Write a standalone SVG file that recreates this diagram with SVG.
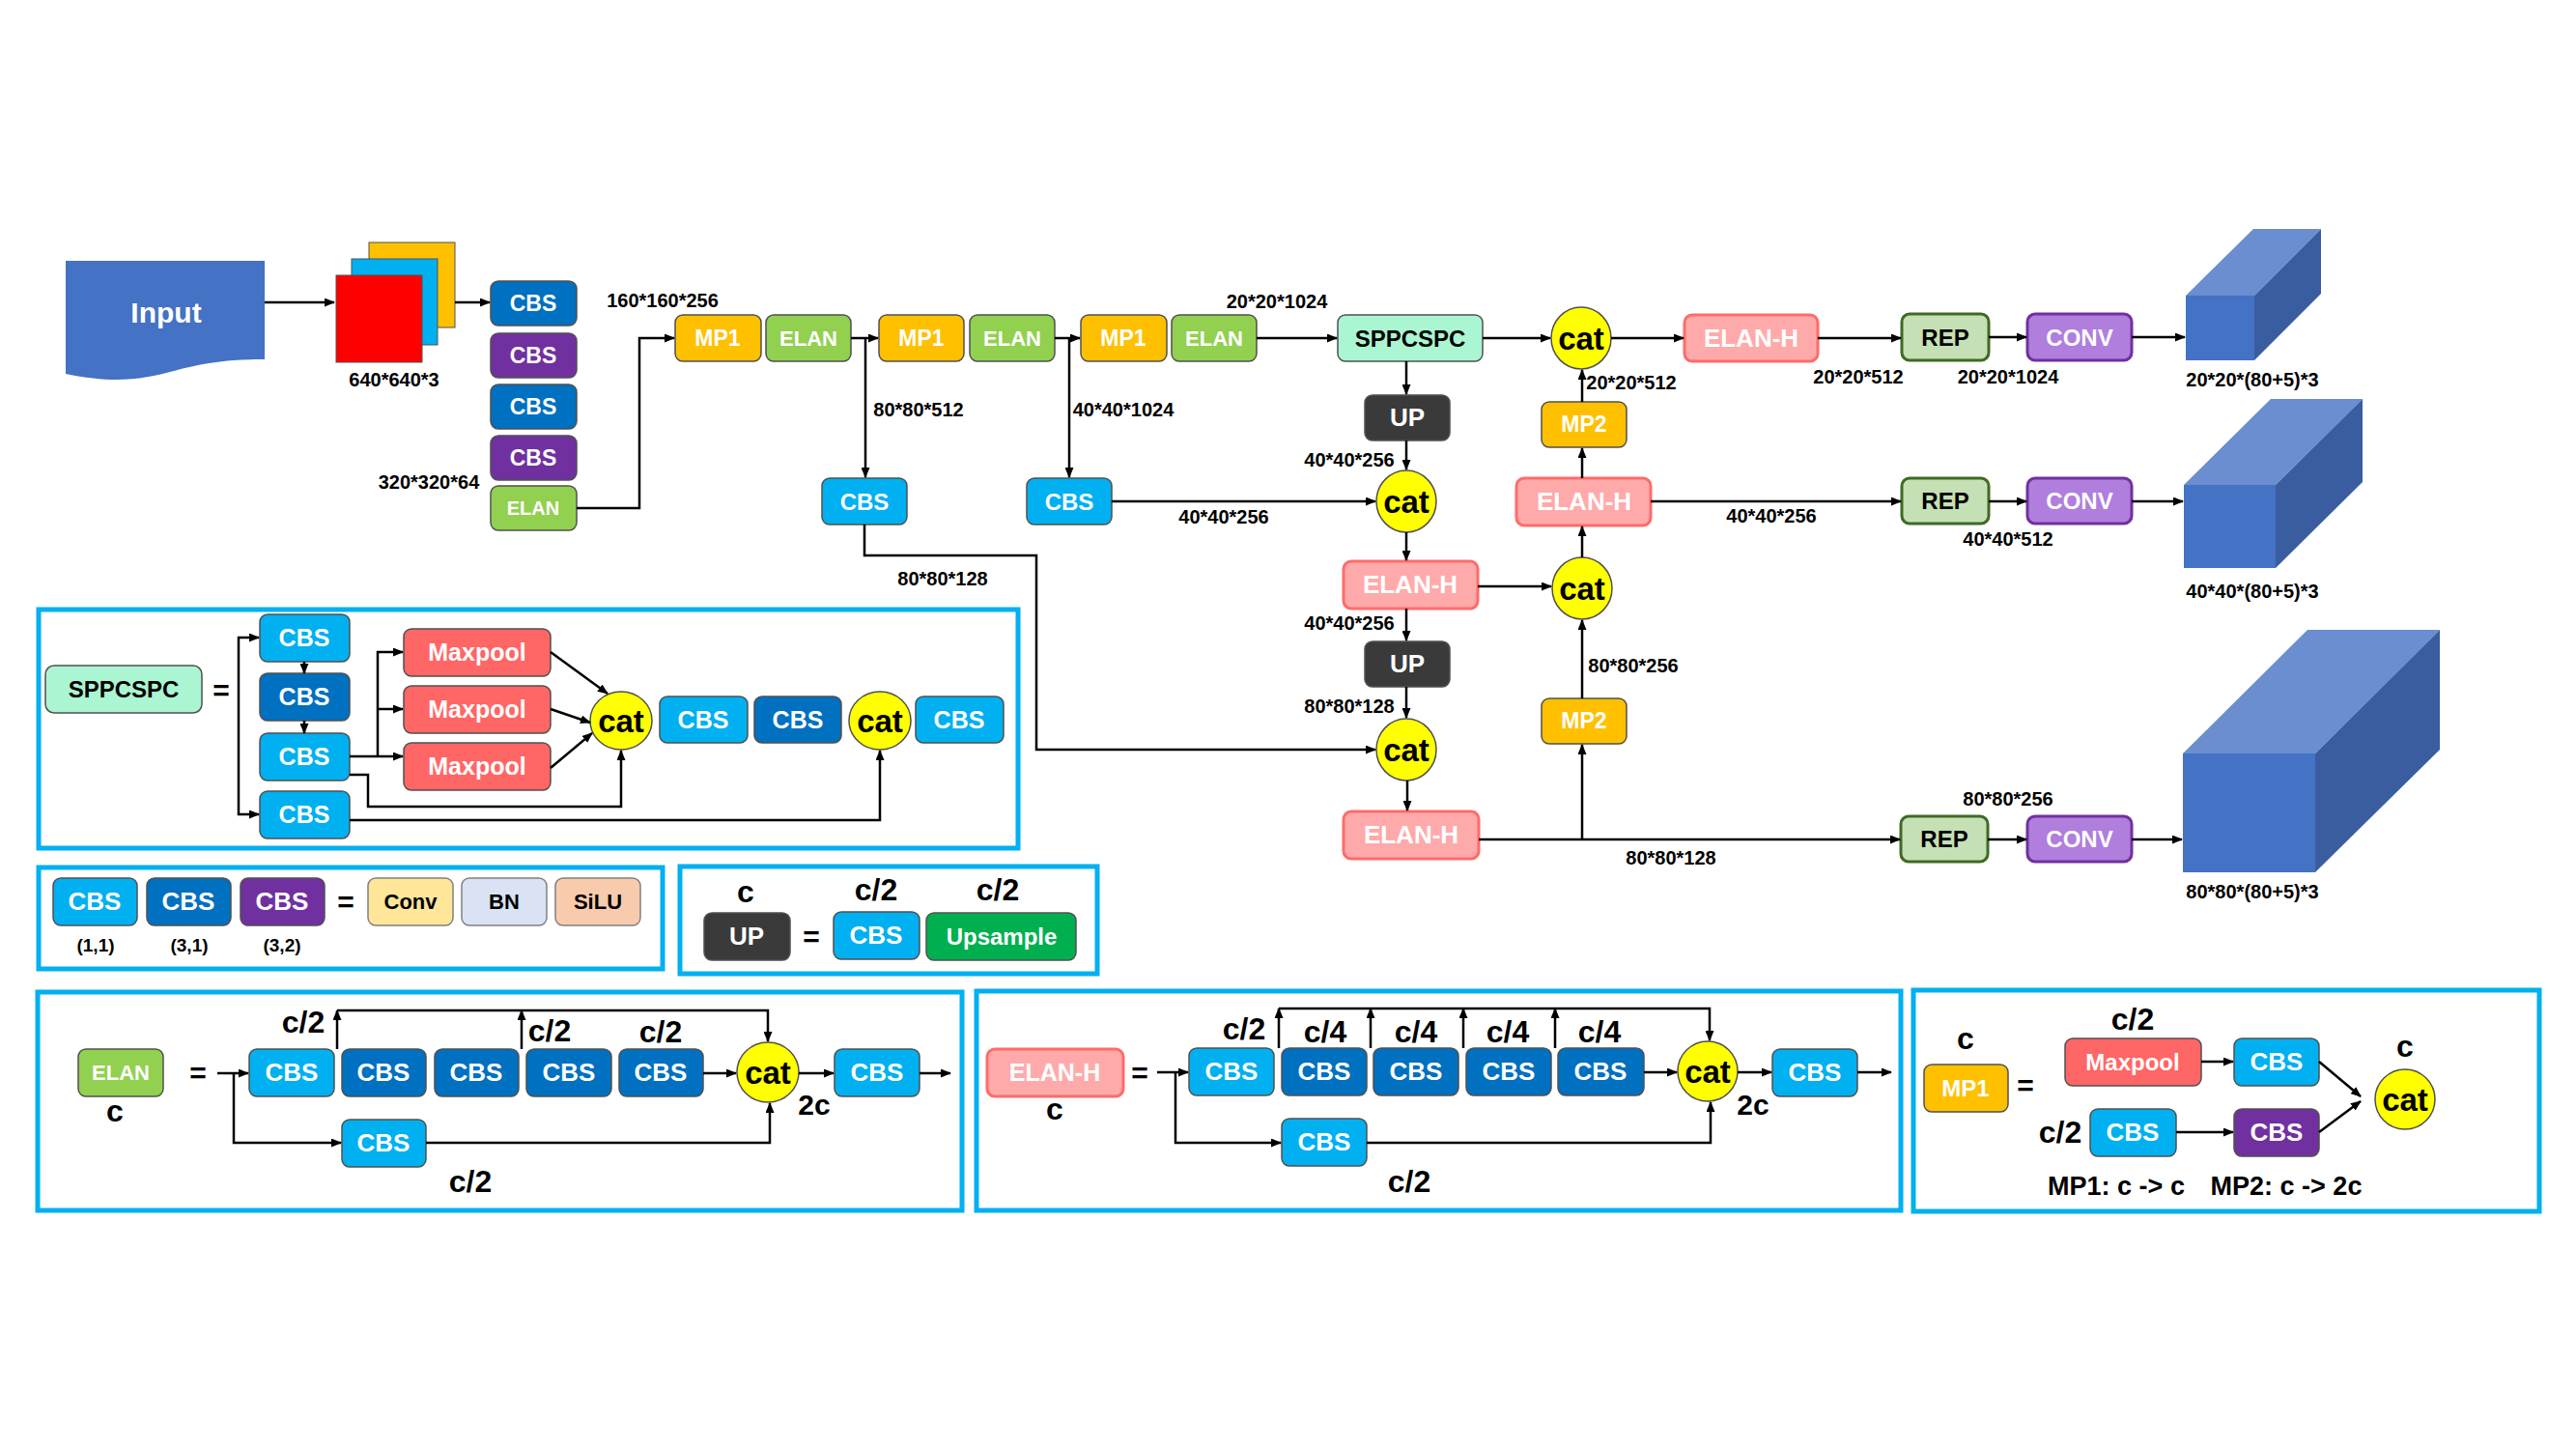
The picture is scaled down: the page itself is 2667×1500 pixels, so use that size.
<svg xmlns="http://www.w3.org/2000/svg" width="2667" height="1500" viewBox="0 0 2667 1500">
<defs>
<marker id="ah" markerWidth="11" markerHeight="9" refX="10" refY="4.5" orient="auto" markerUnits="userSpaceOnUse"><path d="M0,0 L11,4.5 L0,9 z" fill="#000"/></marker>
<style>
.t{font-family:"Liberation Sans",Arial,sans-serif;font-weight:bold;text-anchor:middle;dominant-baseline:central}
.w{fill:#fff}.k{fill:#000}
.d{font-size:20px;fill:#000}
.b{stroke:#505050;stroke-width:1.5}
.lb{fill:#00B0F0}.db{fill:#0070C0}.pu{fill:#7030A0}.el{fill:#92D050}.mp{fill:#FFC000}
.eh{fill:#FFAAAA;stroke:#FF6B6B;stroke-width:3}
.up{fill:#3A3A3A}.rep{fill:#C5E0B4;stroke:#3F6A25;stroke-width:3}
.cv{fill:#B07EDC;stroke:#7030A0;stroke-width:3}
.mx{fill:#FF6666}.sp{fill:#AAF5D2}
.cat{fill:#FFFF00;stroke:#505050;stroke-width:1.5}
.ln{stroke:#000;stroke-width:2.5;fill:none}
.a{marker-end:url(#ah)}
.pan{fill:#fff;stroke:#00B0F0;stroke-width:5}
</style>
</defs>
<rect width="2667" height="1500" fill="#fff"/>

<!-- panels -->
<g id="panels">
<rect class="pan" x="40" y="631" width="1014" height="247"/>
<rect class="pan" x="40" y="898" width="646" height="105"/>
<rect class="pan" x="704" y="897" width="432" height="111"/>
<rect class="pan" x="39" y="1027" width="957" height="226"/>
<rect class="pan" x="1011" y="1026" width="957" height="227"/>
<rect class="pan" x="1981" y="1025" width="648" height="229"/>
</g>

<!-- main nodes -->
<g id="input">
<path d="M68,270 H274 V372 C235,372 210,376 180,384 C150,392 120,398 68,387 Z" fill="#4472C4"/>
<text class="t w" x="172" y="323" font-size="30">Input</text>
</g>
<g id="image">
<rect x="382" y="251" width="89" height="88" fill="#FFC000" stroke="#505050" stroke-width="1"/>
<rect x="364" y="268" width="89" height="89" fill="#00B0F0" stroke="#505050" stroke-width="1"/>
<rect x="348" y="285" width="89" height="90" fill="#FF0000" stroke="#505050" stroke-width="1"/>
</g>
<g id="bb1"><rect class="db b" x="508" y="291" width="89" height="46" rx="8"/><text class="t w" x="552" y="314" font-size="23">CBS</text></g>
<g id="bb2"><rect class="pu b" x="508" y="345" width="89" height="46" rx="8"/><text class="t w" x="552" y="368" font-size="23">CBS</text></g>
<g id="bb3"><rect class="db b" x="508" y="398" width="89" height="46" rx="8"/><text class="t w" x="552" y="421" font-size="23">CBS</text></g>
<g id="bb4"><rect class="pu b" x="508" y="451" width="89" height="46" rx="8"/><text class="t w" x="552" y="474" font-size="23">CBS</text></g>
<g id="bb5"><rect class="el b" x="508" y="503" width="89" height="46" rx="8"/><text class="t w" x="552" y="526" font-size="20">ELAN</text></g>

<g id="mp1a"><rect class="mp b" x="699" y="326" width="89" height="48" rx="8"/><text class="t w" x="743" y="350" font-size="23">MP1</text></g>
<g id="elana"><rect class="el b" x="793" y="326" width="88" height="48" rx="8"/><text class="t w" x="837" y="350" font-size="22">ELAN</text></g>
<g id="mp1b"><rect class="mp b" x="910" y="326" width="88" height="48" rx="8"/><text class="t w" x="954" y="350" font-size="23">MP1</text></g>
<g id="elanb"><rect class="el b" x="1004" y="326" width="88" height="48" rx="8"/><text class="t w" x="1048" y="350" font-size="22">ELAN</text></g>
<g id="mp1c"><rect class="mp b" x="1119" y="326" width="89" height="48" rx="8"/><text class="t w" x="1163" y="350" font-size="23">MP1</text></g>
<g id="elanc"><rect class="el b" x="1213" y="326" width="88" height="48" rx="8"/><text class="t w" x="1257" y="350" font-size="22">ELAN</text></g>
<g id="sppcspc"><rect class="sp b" x="1385" y="326" width="150" height="48" rx="8"/><text class="t k" x="1460" y="350" font-size="24">SPPCSPC</text></g>
<g id="cat1"><ellipse class="cat" cx="1637" cy="350" rx="31" ry="32"/><text class="t k" x="1637" y="350" font-size="33">cat</text></g>
<g id="elanh1"><rect class="eh" x="1744" y="326" width="138" height="48" rx="8"/><text class="t w" x="1813" y="350" font-size="26">ELAN-H</text></g>
<g id="rep1"><rect class="rep" x="1969" y="325" width="90" height="48" rx="8"/><text class="t k" x="2014" y="349" font-size="24">REP</text></g>
<g id="conv1"><rect class="cv" x="2099" y="325" width="108" height="48" rx="8"/><text class="t w" x="2153" y="349" font-size="24">CONV</text></g>
<g id="cube1">
<polygon points="2263,306 2333,237 2403,237 2334,306" fill="#6A8ECF"/>
<polygon points="2334,306 2403,237 2403,304 2334,373" fill="#3A5DA0"/>
<rect x="2263" y="306" width="71" height="67" fill="#4472C4"/>
</g>

<g id="cbsa"><rect class="lb b" x="851" y="495" width="88" height="48" rx="8"/><text class="t w" x="895" y="519" font-size="24">CBS</text></g>
<g id="cbsb"><rect class="lb b" x="1063" y="495" width="88" height="48" rx="8"/><text class="t w" x="1107" y="519" font-size="24">CBS</text></g>
<g id="up1"><rect class="up b" x="1413" y="409" width="88" height="47" rx="8"/><text class="t w" x="1457" y="432" font-size="26">UP</text></g>
<g id="cat2"><ellipse class="cat" cx="1456" cy="519" rx="31" ry="32"/><text class="t k" x="1456" y="519" font-size="33">cat</text></g>
<g id="mp2a"><rect class="mp b" x="1596" y="416" width="88" height="47" rx="8"/><text class="t w" x="1640" y="439" font-size="23">MP2</text></g>
<g id="elanh2"><rect class="eh" x="1570" y="495" width="139" height="49" rx="8"/><text class="t w" x="1640" y="519" font-size="26">ELAN-H</text></g>
<g id="rep2"><rect class="rep" x="1969" y="495" width="90" height="47" rx="8"/><text class="t k" x="2014" y="518" font-size="24">REP</text></g>
<g id="conv2"><rect class="cv" x="2099" y="495" width="108" height="47" rx="8"/><text class="t w" x="2153" y="518" font-size="24">CONV</text></g>
<g id="cube2">
<polygon points="2261,502 2351,413 2446,413 2356,502" fill="#6A8ECF"/>
<polygon points="2356,502 2446,413 2446,499 2356,588" fill="#3A5DA0"/>
<rect x="2261" y="502" width="95" height="86" fill="#4472C4"/>
</g>

<g id="elanh3"><rect class="eh" x="1391" y="581" width="139" height="49" rx="8"/><text class="t w" x="1460" y="605" font-size="26">ELAN-H</text></g>
<g id="cat4"><ellipse class="cat" cx="1638" cy="609" rx="31" ry="32"/><text class="t k" x="1638" y="609" font-size="33">cat</text></g>
<g id="up2"><rect class="up b" x="1413" y="664" width="88" height="47" rx="8"/><text class="t w" x="1457" y="687" font-size="26">UP</text></g>
<g id="cat5"><ellipse class="cat" cx="1456" cy="776" rx="31" ry="32"/><text class="t k" x="1456" y="776" font-size="33">cat</text></g>
<g id="mp2b"><rect class="mp b" x="1596" y="723" width="88" height="47" rx="8"/><text class="t w" x="1640" y="746" font-size="23">MP2</text></g>
<g id="elanh4"><rect class="eh" x="1391" y="840" width="140" height="49" rx="8"/><text class="t w" x="1461" y="864" font-size="26">ELAN-H</text></g>
<g id="rep3"><rect class="rep" x="1968" y="845" width="90" height="47" rx="8"/><text class="t k" x="2013" y="868" font-size="24">REP</text></g>
<g id="conv3"><rect class="cv" x="2099" y="845" width="108" height="47" rx="8"/><text class="t w" x="2153" y="868" font-size="24">CONV</text></g>
<g id="cube3">
<polygon points="2260,780 2389,652 2526,652 2397,780" fill="#6A8ECF"/>
<polygon points="2397,780 2526,652 2526,776 2397,903" fill="#3A5DA0"/>
<rect x="2260" y="780" width="137" height="123" fill="#4472C4"/>
</g>

<!-- main connectors -->
<g id="connectors">
<path class="ln a" d="M274,313 H346"/>
<path class="ln a" d="M471,313 H507"/>
<path class="ln a" d="M597,526 H662 V350 H698"/>
<path class="ln a" d="M881,350 H909"/>
<path class="ln a" d="M896,350 V494"/>
<path class="ln a" d="M1092,350 H1118"/>
<path class="ln a" d="M1107,350 V494"/>
<path class="ln a" d="M1301,350 H1384"/>
<path class="ln a" d="M1535,350 H1605"/>
<path class="ln a" d="M1668,350 H1743"/>
<path class="ln a" d="M1882,350 H1968"/>
<path class="ln a" d="M2059,349 H2098"/>
<path class="ln a" d="M2207,349 H2262"/>
<path class="ln a" d="M1456,374 V408"/>
<path class="ln a" d="M1456,456 V486"/>
<path class="ln a" d="M1151,519 H1424"/>
<path class="ln a" d="M1456,551 V580"/>
<path class="ln a" d="M1456,630 V663"/>
<path class="ln a" d="M1456,711 V743"/>
<path class="ln a" d="M895,543 V575 H1073 V776 H1424"/>
<path class="ln a" d="M1457,808 V839"/>
<path class="ln a" d="M1531,869 H1967"/>
<path class="ln a" d="M1638,869 V771"/>
<path class="ln a" d="M1638,723 V642"/>
<path class="ln a" d="M1530,607 H1606"/>
<path class="ln a" d="M1638,577 V545"/>
<path class="ln a" d="M1638,495 V464"/>
<path class="ln a" d="M1638,416 V383"/>
<path class="ln a" d="M1709,519 H1968"/>
<path class="ln a" d="M2059,519 H2098"/>
<path class="ln a" d="M2207,519 H2260"/>
<path class="ln a" d="M2058,869 H2098"/>
<path class="ln a" d="M2207,869 H2259"/>
</g>

<!-- dimension labels -->
<g id="dims">
<text class="t d" x="408" y="393">640*640*3</text>
<text class="t d" x="444" y="499">320*320*64</text>
<text class="t d" x="686" y="311">160*160*256</text>
<text class="t d" x="951" y="424">80*80*512</text>
<text class="t d" x="1163" y="424">40*40*1024</text>
<text class="t d" x="1322" y="312">20*20*1024</text>
<text class="t d" x="1267" y="535">40*40*256</text>
<text class="t d" x="976" y="599">80*80*128</text>
<text class="t d" x="1397" y="476">40*40*256</text>
<text class="t d" x="1689" y="396">20*20*512</text>
<text class="t d" x="1924" y="390">20*20*512</text>
<text class="t d" x="2079" y="390">20*20*1024</text>
<text class="t d" x="2332" y="393">20*20*(80+5)*3</text>
<text class="t d" x="1834" y="534">40*40*256</text>
<text class="t d" x="2079" y="558">40*40*512</text>
<text class="t d" x="2332" y="612">40*40*(80+5)*3</text>
<text class="t d" x="1397" y="645">40*40*256</text>
<text class="t d" x="1397" y="731">80*80*128</text>
<text class="t d" x="1691" y="689">80*80*256</text>
<text class="t d" x="1730" y="888">80*80*128</text>
<text class="t d" x="2079" y="827">80*80*256</text>
<text class="t d" x="2332" y="923">80*80*(80+5)*3</text>
</g>

<!-- SPPCSPC panel -->
<g id="spp-detail">
<rect class="sp b" x="47" y="689" width="162" height="49" rx="9"/><text class="t k" x="128" y="713" font-size="24">SPPCSPC</text>
<text class="t k" x="229" y="714" font-size="30">=</text>
<rect class="lb b" x="269" y="636" width="93" height="49" rx="8"/><text class="t w" x="315" y="660" font-size="25">CBS</text>
<rect class="db b" x="269" y="697" width="93" height="49" rx="8"/><text class="t w" x="315" y="721" font-size="25">CBS</text>
<rect class="lb b" x="269" y="759" width="93" height="49" rx="8"/><text class="t w" x="315" y="783" font-size="25">CBS</text>
<rect class="lb b" x="269" y="819" width="93" height="49" rx="8"/><text class="t w" x="315" y="843" font-size="25">CBS</text>
<rect class="mx b" x="418" y="651" width="152" height="49" rx="8"/><text class="t w" x="494" y="675" font-size="25">Maxpool</text>
<rect class="mx b" x="418" y="710" width="152" height="49" rx="8"/><text class="t w" x="494" y="734" font-size="25">Maxpool</text>
<rect class="mx b" x="418" y="769" width="152" height="49" rx="8"/><text class="t w" x="494" y="793" font-size="25">Maxpool</text>
<ellipse class="cat" cx="643" cy="746" rx="32" ry="30"/><text class="t k" x="643" y="746" font-size="33">cat</text>
<rect class="lb b" x="683" y="721" width="91" height="48" rx="8"/><text class="t w" x="728" y="745" font-size="25">CBS</text>
<rect class="db b" x="781" y="721" width="90" height="48" rx="8"/><text class="t w" x="826" y="745" font-size="25">CBS</text>
<ellipse class="cat" cx="911" cy="746" rx="32" ry="30"/><text class="t k" x="911" y="746" font-size="33">cat</text>
<rect class="lb b" x="948" y="721" width="91" height="48" rx="8"/><text class="t w" x="993" y="745" font-size="25">CBS</text>
<path class="ln a" d="M247,752 V660 H268"/>
<path class="ln a" d="M247,752 V843 H268"/>
<path class="ln a" stroke-width="2" d="M315,685 V697"/>
<path class="ln a" stroke-width="2" d="M315,746 V759"/>
<path class="ln a" d="M362,783 H417"/>
<path class="ln a" d="M391,783 V675 H417"/>
<path class="ln a" d="M391,734 H417"/>
<path class="ln a" d="M570,675 L629,718"/>
<path class="ln a" d="M570,734 L611,748"/>
<path class="ln a" d="M570,795 L613,759"/>
<path class="ln a" d="M362,802 H381 V835 H643 V777"/>
<path class="ln a" d="M362,849 H911 V777"/>
</g>

<!-- CBS legend -->
<g id="cbs-legend">
<rect class="lb b" x="55" y="909" width="87" height="49" rx="8"/><text class="t w" x="98" y="933" font-size="26">CBS</text>
<rect class="db b" x="152" y="909" width="87" height="49" rx="8"/><text class="t w" x="195" y="933" font-size="26">CBS</text>
<rect class="pu b" x="249" y="909" width="87" height="49" rx="8"/><text class="t w" x="292" y="933" font-size="26">CBS</text>
<text class="t k" x="358" y="933" font-size="30">=</text>
<rect x="381" y="909" width="88" height="49" rx="8" fill="#FFE699" stroke="#808080" stroke-width="1.5"/><text class="t k" x="425" y="933" font-size="22">Conv</text>
<rect x="478" y="909" width="88" height="49" rx="8" fill="#DAE3F3" stroke="#808080" stroke-width="1.5"/><text class="t k" x="522" y="933" font-size="22">BN</text>
<rect x="575" y="909" width="88" height="49" rx="8" fill="#F8CBAD" stroke="#808080" stroke-width="1.5"/><text class="t k" x="619" y="933" font-size="22">SiLU</text>
<text class="t k" x="99" y="978" font-size="19">(1,1)</text>
<text class="t k" x="196" y="978" font-size="19">(3,1)</text>
<text class="t k" x="292" y="978" font-size="19">(3,2)</text>
</g>

<!-- UP legend -->
<g id="up-legend">
<text class="t k" x="772" y="923" font-size="32">c</text>
<text class="t k" x="907" y="921" font-size="32">c/2</text>
<text class="t k" x="1033" y="921" font-size="32">c/2</text>
<rect class="up b" x="729" y="945" width="89" height="49" rx="8"/><text class="t w" x="773" y="969" font-size="26">UP</text>
<text class="t k" x="840" y="969" font-size="30">=</text>
<rect class="lb b" x="863" y="944" width="89" height="49" rx="8"/><text class="t w" x="907" y="968" font-size="26">CBS</text>
<rect x="959" y="945" width="155" height="49" rx="8" fill="#00B050" stroke="#505050" stroke-width="1.5"/><text class="t w" x="1037" y="969" font-size="24">Upsample</text>
</g>

<!-- ELAN detail -->
<g id="elan-detail">
<rect class="el b" x="81" y="1086" width="88" height="49" rx="8"/><text class="t w" x="125" y="1110" font-size="22">ELAN</text>
<text class="t k" x="119" y="1150" font-size="32">c</text>
<text class="t k" x="205" y="1110" font-size="30">=</text>
<rect class="lb b" x="258" y="1086" width="88" height="49" rx="8"/><text class="t w" x="302" y="1110" font-size="26">CBS</text>
<rect class="db b" x="354" y="1086" width="87" height="49" rx="8"/><text class="t w" x="397" y="1110" font-size="26">CBS</text>
<rect class="db b" x="450" y="1086" width="87" height="49" rx="8"/><text class="t w" x="493" y="1110" font-size="26">CBS</text>
<rect class="db b" x="545" y="1086" width="88" height="49" rx="8"/><text class="t w" x="589" y="1110" font-size="26">CBS</text>
<rect class="db b" x="641" y="1086" width="87" height="49" rx="8"/><text class="t w" x="684" y="1110" font-size="26">CBS</text>
<ellipse class="cat" cx="795" cy="1110" rx="32" ry="31"/><text class="t k" x="795" y="1110" font-size="33">cat</text>
<rect class="lb b" x="864" y="1086" width="88" height="49" rx="8"/><text class="t w" x="908" y="1110" font-size="26">CBS</text>
<rect class="lb b" x="354" y="1159" width="87" height="49" rx="8"/><text class="t w" x="397" y="1183" font-size="26">CBS</text>
<text class="t k" x="314" y="1058" font-size="32">c/2</text>
<text class="t k" x="569" y="1067" font-size="32">c/2</text>
<text class="t k" x="684" y="1068" font-size="32">c/2</text>
<text class="t k" x="843" y="1143" font-size="30">2c</text>
<text class="t k" x="487" y="1223" font-size="32">c/2</text>
<path class="ln a" d="M225,1111 H257"/>
<path class="ln a" d="M242,1111 V1183 H353"/>
<path class="ln a" stroke-width="2" d="M349,1086 V1046"/>
<path class="ln a" stroke-width="2" d="M540,1086 V1046"/>
<path class="ln a" d="M349,1046 H795 V1078"/>
<path class="ln a" d="M728,1111 H762"/>
<path class="ln a" d="M827,1111 H863"/>
<path class="ln a" d="M952,1111 H984"/>
<path class="ln a" d="M441,1183 H797 V1142"/>
</g>

<!-- ELAN-H detail -->
<g id="elanh-detail">
<rect class="eh" x="1022" y="1086" width="141" height="49" rx="8"/><text class="t w" x="1092" y="1110" font-size="25">ELAN-H</text>
<text class="t k" x="1092" y="1148" font-size="32">c</text>
<text class="t k" x="1180" y="1110" font-size="30">=</text>
<rect class="lb b" x="1231" y="1085" width="88" height="49" rx="8"/><text class="t w" x="1275" y="1109" font-size="26">CBS</text>
<rect class="db b" x="1327" y="1085" width="88" height="49" rx="8"/><text class="t w" x="1371" y="1109" font-size="26">CBS</text>
<rect class="db b" x="1422" y="1085" width="88" height="49" rx="8"/><text class="t w" x="1466" y="1109" font-size="26">CBS</text>
<rect class="db b" x="1518" y="1085" width="88" height="49" rx="8"/><text class="t w" x="1562" y="1109" font-size="26">CBS</text>
<rect class="db b" x="1613" y="1085" width="89" height="49" rx="8"/><text class="t w" x="1657" y="1109" font-size="26">CBS</text>
<ellipse class="cat" cx="1768" cy="1109" rx="31" ry="31"/><text class="t k" x="1768" y="1109" font-size="33">cat</text>
<rect class="lb b" x="1835" y="1086" width="88" height="49" rx="8"/><text class="t w" x="1879" y="1110" font-size="26">CBS</text>
<rect class="lb b" x="1327" y="1158" width="88" height="49" rx="8"/><text class="t w" x="1371" y="1182" font-size="26">CBS</text>
<text class="t k" x="1288" y="1065" font-size="32">c/2</text>
<text class="t k" x="1372" y="1068" font-size="32">c/4</text>
<text class="t k" x="1466" y="1068" font-size="32">c/4</text>
<text class="t k" x="1561" y="1068" font-size="32">c/4</text>
<text class="t k" x="1656" y="1068" font-size="32">c/4</text>
<text class="t k" x="1815" y="1143" font-size="30">2c</text>
<text class="t k" x="1459" y="1223" font-size="32">c/2</text>
<path class="ln a" d="M1198,1110 H1230"/>
<path class="ln a" d="M1217,1110 V1183 H1326"/>
<path class="ln a" stroke-width="2" d="M1324,1085 V1044"/>
<path class="ln a" stroke-width="2" d="M1419,1085 V1044"/>
<path class="ln a" stroke-width="2" d="M1515,1085 V1044"/>
<path class="ln a" stroke-width="2" d="M1610,1085 V1044"/>
<path class="ln a" d="M1324,1044 H1770 V1077"/>
<path class="ln a" d="M1702,1110 H1736"/>
<path class="ln a" d="M1799,1110 H1834"/>
<path class="ln a" d="M1923,1110 H1958"/>
<path class="ln a" d="M1415,1183 H1771 V1141"/>
</g>

<!-- MP1 detail -->
<g id="mp-detail">
<text class="t k" x="2035" y="1075" font-size="32">c</text>
<rect class="mp b" x="1992" y="1102" width="87" height="49" rx="8"/><text class="t w" x="2035" y="1126" font-size="24">MP1</text>
<text class="t k" x="2097" y="1123" font-size="30">=</text>
<text class="t k" x="2208" y="1055" font-size="32">c/2</text>
<rect class="mx b" x="2138" y="1075" width="141" height="49" rx="8"/><text class="t w" x="2208" y="1099" font-size="24">Maxpool</text>
<rect class="lb b" x="2313" y="1075" width="88" height="49" rx="8"/><text class="t w" x="2357" y="1099" font-size="26">CBS</text>
<text class="t k" x="2133" y="1172" font-size="32">c/2</text>
<rect class="lb b" x="2164" y="1148" width="89" height="49" rx="8"/><text class="t w" x="2208" y="1172" font-size="26">CBS</text>
<rect class="pu b" x="2313" y="1148" width="88" height="49" rx="8"/><text class="t w" x="2357" y="1172" font-size="26">CBS</text>
<ellipse class="cat" cx="2490" cy="1138" rx="31" ry="31"/><text class="t k" x="2490" y="1138" font-size="33">cat</text>
<text class="t k" x="2490" y="1083" font-size="32">c</text>
<text class="t k" x="2191" y="1228" font-size="27">MP1: c -&gt; c</text>
<text class="t k" x="2367" y="1228" font-size="27">MP2: c -&gt; 2c</text>
<path class="ln a" d="M2279,1099 H2312"/>
<path class="ln a" d="M2253,1172 H2312"/>
<path class="ln a" d="M2401,1099 L2444,1135"/>
<path class="ln a" d="M2401,1172 L2444,1140"/>
</g>
</svg>
